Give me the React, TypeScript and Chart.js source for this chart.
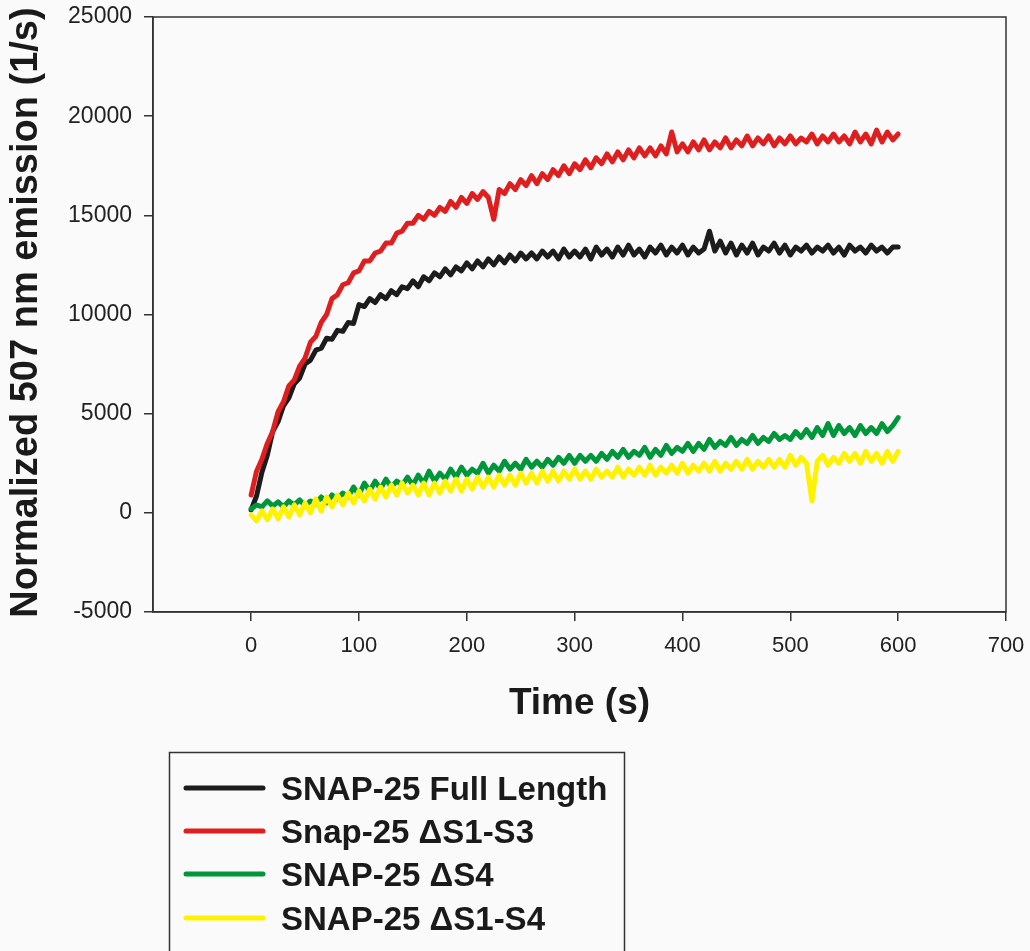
import React, { useEffect, useRef } from 'react';
import { Chart, registerables } from 'chart.js';

Chart.register(...registerables);

// Time stamps (s)
const times = [
  0, 5, 10, 15, 20, 25, 30, 35, 40, 45, 50, 55, 60, 65, 70, 75, 80, 85, 90, 95,
  100, 105, 110, 115, 120, 125, 130, 135, 140, 145, 150, 155, 160, 165, 170, 175, 180, 185, 190, 195,
  200, 205, 210, 215, 220, 225, 230, 235, 240, 245, 250, 255, 260, 265, 270, 275, 280, 285, 290, 295,
  300, 305, 310, 315, 320, 325, 330, 335, 340, 345, 350, 355, 360, 365, 370, 375, 380, 385, 390, 395,
  400, 405, 410, 415, 420, 425, 430, 435, 440, 445, 450, 455, 460, 465, 470, 475, 480, 485, 490, 495,
  500, 505, 510, 515, 520, 525, 530, 535, 540, 545, 550, 555, 560, 565, 570, 575, 580, 585, 590, 595,
  600,
];

// SNAP-25 Full Length
const fullLength = [
  150, 850, 2050, 2900, 4100, 4600, 5400, 5800, 6500, 6800,
  7500, 7700, 8200, 8300, 8800, 8750, 9200, 9150, 9600, 9550,
  10500, 10400, 10800, 10600, 11000, 10800, 11200, 11000, 11400, 11300,
  11700, 11400, 11900, 11700, 12100, 11900, 12300, 12000, 12400, 12200,
  12600, 12300, 12700, 12400, 12800, 12500, 12900, 12600, 13000, 12700,
  13100, 12800, 13100, 12800, 13200, 12900, 13200, 12800, 13300, 12900,
  13200, 12900, 13300, 12800, 13400, 13000, 13300, 12900, 13400, 13000,
  13500, 13000, 13300, 12900, 13400, 13100, 13500, 13000, 13400, 13100,
  13500, 13000, 13400, 13100, 13300, 14200, 13200, 13700, 13100, 13600,
  13000, 13500, 13100, 13600, 13000, 13400, 13200, 13600, 13100, 13500,
  13000, 13400, 13200, 13500, 13100, 13400, 13200, 13500, 13100, 13400,
  13000, 13500, 13200, 13400, 13100, 13500, 13200, 13400, 13100, 13400,
  13400,
];

// Snap-25 ΔS1-S3
const deltaS1S3 = [
  900, 2100, 2700, 3500, 4100, 5100, 5600, 6400, 6700, 7400,
  7800, 8600, 8900, 9600, 10000, 10800, 11000, 11500, 11600, 12100,
  12200, 12700, 12700, 13100, 13200, 13600, 13600, 14100, 14200, 14600,
  14600, 15000, 14800, 15200, 15000, 15400, 15200, 15700, 15400, 15900,
  15600, 16100, 15800, 16200, 15900, 14800, 16300, 16100, 16600, 16300,
  16800, 16500, 17000, 16600, 17100, 16800, 17300, 17000, 17500, 17100,
  17600, 17300, 17800, 17400, 17900, 17600, 18100, 17700, 18200, 17800,
  18300, 17900, 18400, 18000, 18400, 18000, 18500, 18100, 19200, 18200,
  18600, 18200, 18700, 18300, 18800, 18300, 18700, 18400, 18900, 18400,
  18800, 18500, 19000, 18500, 18900, 18600, 19000, 18500, 18900, 18600,
  19000, 18600, 18900, 18700, 19100, 18600, 19000, 18700, 19100, 18700,
  19000, 18600, 19200, 18700, 19100, 18600, 19300, 18700, 19200, 18800,
  19100,
];

// SNAP-25 ΔS4
const deltaS4 = [
  200, 400, 300, 600, 350, 550, 300, 600, 400, 650,
  350, 600, 450, 800, 500, 900, 700, 1000, 800, 1300,
  900, 1500, 1100, 1600, 1200, 1700, 1300, 1600, 1400, 1800,
  1400, 1900, 1500, 2100, 1600, 2000, 1700, 2200, 1800, 2300,
  1900, 2200, 2000, 2500, 2000, 2400, 2100, 2600, 2200, 2500,
  2200, 2700, 2300, 2600, 2300, 2700, 2400, 2800, 2500, 2900,
  2500, 2900, 2600, 2900, 2600, 3000, 2700, 3100, 2800, 3200,
  2800, 3100, 2900, 3300, 2800, 3200, 2900, 3400, 3000, 3300,
  3100, 3500, 3100, 3500, 3200, 3700, 3300, 3600, 3400, 3800,
  3400, 3700, 3500, 3900, 3500, 3800, 3600, 4000, 3700, 3900,
  3700, 4100, 3800, 4200, 3800, 4300, 3900, 4500, 3900, 4400,
  4000, 4300, 3900, 4400, 4000, 4300, 4000, 4500, 4100, 4400,
  4800,
];

// SNAP-25 ΔS1-S4
const deltaS1S4 = [
  -100, -400, 100, -350, 200, -300, 300, -200, 400, -100,
  500, 0, 700, 100, 800, 300, 900, 400, 1000, 500,
  1100, 600, 1200, 700, 1300, 800, 1400, 900, 1500, 1000,
  1400, 900, 1500, 900, 1500, 1000, 1600, 1100, 1700, 1100,
  1700, 1200, 1800, 1300, 1800, 1300, 1900, 1400, 1900, 1400,
  2000, 1500, 2000, 1500, 2100, 1600, 2100, 1600, 2100, 1700,
  2200, 1700, 2100, 1700, 2200, 1800, 2100, 1800, 2300, 1800,
  2200, 1900, 2300, 1900, 2400, 1900, 2300, 2000, 2400, 2000,
  2500, 2000, 2400, 2100, 2500, 2100, 2600, 2100, 2500, 2200,
  2600, 2200, 2700, 2200, 2600, 2300, 2700, 2300, 2700, 2300,
  2900, 2400, 2800, 2500, 600, 2600, 2900, 2400, 2800, 2500,
  3000, 2600, 3000, 2500, 3100, 2600, 3000, 2500, 3100, 2600,
  3100,
];

const seriesLabels = ['SNAP-25 Full Length', 'Snap-25 \u0394S1-S3', 'SNAP-25 \u0394S4', 'SNAP-25 \u0394S1-S4'];
const seriesColors = ['#1c1c1c', '#df1f1f', '#00963a', '#fff200'];

const xTicks = [0, 100, 200, 300, 400, 500, 600, 700];
const yTicks = [-5000, 0, 5000, 10000, 15000, 20000, 25000];
const xTitle = 'Time (s)';
const yTitle = 'Normalized 507 nm emission (1/s)';

const FONT = "'Liberation Sans', Arial, Helvetica, sans-serif";
const BG = '#fafafa';

const decorPlugin = {
  id: 'decor',
  beforeDraw(chart: any) {
    const { ctx, width, height } = chart;
    ctx.save();
    ctx.fillStyle = BG;
    ctx.fillRect(0, 0, width, height);
    ctx.restore();
  },
  afterDraw(chart: any) {
    const { ctx } = chart;
    const { left, top, right, bottom } = chart.chartArea;
    ctx.save();
    // plot frame
    ctx.strokeStyle = '#333';
    ctx.lineWidth = 1.5;
    ctx.strokeRect(left, top, right - left, bottom - top);

    // y title
    ctx.fillStyle = '#1a1a1a';
    ctx.font = `bold 38px ${FONT}`;
    ctx.textAlign = 'center';
    ctx.textBaseline = 'middle';
    ctx.save();
    ctx.translate(27, (top + bottom) / 2 - 2);
    ctx.rotate(-Math.PI / 2);
    ctx.fillText(yTitle, 0, 0);
    ctx.restore();

    // x title
    ctx.font = `bold 37px ${FONT}`;
    ctx.fillText(xTitle, (left + right) / 2, 704);

    // legend
    ctx.strokeStyle = '#333';
    ctx.lineWidth = 1.5;
    ctx.strokeRect(169.5, 752.5, 455, 260);
    const rowY = [788, 831, 874, 918];
    ctx.textAlign = 'left';
    ctx.textBaseline = 'alphabetic';
    ctx.font = `bold 33px ${FONT}`;
    for (let i = 0; i < seriesLabels.length; i++) {
      ctx.strokeStyle = seriesColors[i];
      ctx.lineWidth = 5;
      ctx.lineCap = 'round';
      ctx.beginPath();
      ctx.moveTo(186, rowY[i]);
      ctx.lineTo(263, rowY[i]);
      ctx.stroke();
      ctx.fillStyle = '#1a1a1a';
      ctx.fillText(seriesLabels[i], 281, rowY[i] + 12);
    }
    ctx.restore();
  },
};

function toPoints(vals: number[]) {
  return vals.map((v, i) => ({ x: times[i], y: v }));
}

export default function App() {
  const canvasRef = useRef<HTMLCanvasElement | null>(null);

  useEffect(() => {
    const canvas = canvasRef.current;
    if (!canvas) return;
    const order = [3, 2, 1, 0]; // yellow on top, then green, red, black
    const allSeries = [fullLength, deltaS1S3, deltaS4, deltaS1S4];
    const datasets = order.map((k) => ({
      label: seriesLabels[k],
      data: toPoints(allSeries[k]),
      borderColor: seriesColors[k],
      backgroundColor: seriesColors[k],
      borderWidth: 5,
      pointRadius: 0,
      tension: 0,
      borderJoinStyle: 'round' as const,
      borderCapStyle: 'round' as const,
      fill: false,
    }));

    const chart = new Chart(canvas, {
      type: 'line',
      data: { datasets },
      options: {
        responsive: false,
        animation: false,
        devicePixelRatio: 1,
        parsing: false,
        layout: { padding: { left: 0, top: 17, right: 24, bottom: 0 } },
        plugins: {
          legend: { display: false },
          tooltip: { enabled: false },
          title: { display: false },
        },
        scales: {
          x: {
            type: 'linear',
            min: -91,
            max: 700,
            afterBuildTicks: (s: any) => {
              s.ticks = xTicks.map((v) => ({ value: v }));
            },
            afterFit: (s: any) => {
              s.height = 339;
              s.paddingLeft = 0;
              s.paddingRight = 0;
              s.paddingTop = 0;
              s.paddingBottom = 0;
            },
            grid: { drawOnChartArea: false, drawTicks: true, tickLength: 9, color: '#333', lineWidth: 1.5 },
            border: { display: true, color: '#333', width: 1.5 },
            ticks: {
              font: { family: FONT, size: 22 },
              color: '#222',
              padding: 12,
              maxRotation: 0,
              autoSkip: false,
              callback: (v: any) => String(v),
            },
          },
          y: {
            type: 'linear',
            min: -5000,
            max: 25000,
            afterBuildTicks: (s: any) => {
              s.ticks = yTicks.map((v) => ({ value: v }));
            },
            afterFit: (s: any) => {
              s.width = 153;
              s.paddingLeft = 0;
              s.paddingRight = 0;
              s.paddingTop = 0;
              s.paddingBottom = 0;
            },
            grid: { drawOnChartArea: false, drawTicks: true, tickLength: 9, color: '#333', lineWidth: 1.5 },
            border: { display: true, color: '#333', width: 1.5 },
            ticks: {
              font: { family: FONT, size: 23 },
              color: '#222',
              padding: 12,
              autoSkip: false,
              callback: (v: any) => String(v),
            },
          },
        },
      },
      plugins: [decorPlugin],
    });

    return () => chart.destroy();
  }, []);

  return (
    <div style={{ position: 'absolute', left: 0, top: 0, width: 1030, height: 951, background: BG, overflow: 'hidden' }}>
      <canvas ref={canvasRef} width={1030} height={951} style={{ display: 'block', width: 1030, height: 951 }} />
    </div>
  );
}
